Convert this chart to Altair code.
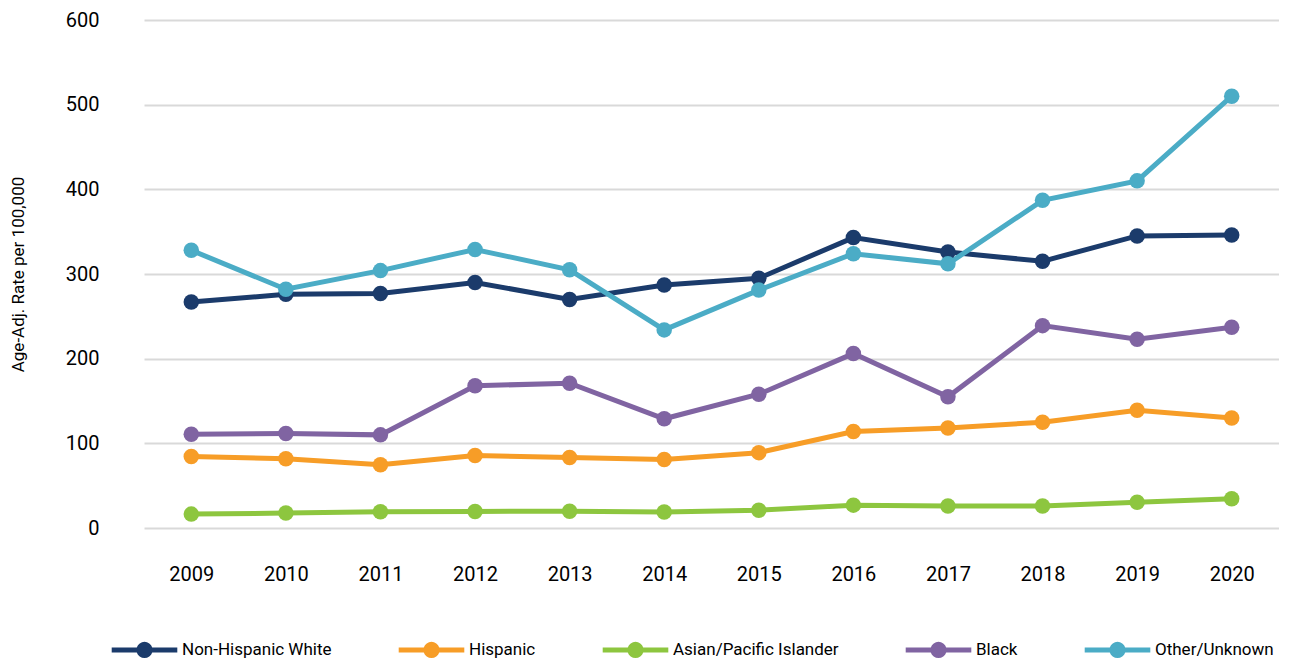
import math
import altair as alt
import pandas as pd

years = [2009, 2010, 2011, 2012, 2013, 2014, 2015, 2016, 2017, 2018, 2019, 2020]
series_names = ["Non-Hispanic White", "Hispanic", "Asian/Pacific Islander", "Black", "Other/Unknown"]
colors = ["#1B3B6B", "#F79D27", "#8DC63F", "#8064A2", "#4BACC6"]

nh_white = [267, 276, 277, 290, 270, 287, 295, 343, 326, 315, 345, 346]
hispanic = [84.5, 81.8, 74.8, 85.7, 83.3, 80.8, 89, 114, 118, 125, 139, 130]
asian_pi = [16.4, 17.6, 19.2, 19.6, 19.8, 18.8, 21, 27, 26, 26, 30.5, 34.5]
black = [110.7, 111.5, 110, 168, 171, 129, 158, 206, 155, 239, 223, 237]
other = [328, 282, 304, 329, 305, 234, 281, 324, 312, 387, 410, 510]

values = [nh_white, hispanic, asian_pi, black, other]
rows = []
for name, vals in zip(series_names, values):
    for y, v in zip(years, vals):
        rows.append({"Year": str(y), "Group": name, "Rate": v})
df = pd.DataFrame(rows)

FONT = "Roboto"

# legend glyph: a line with a dot on it (polygon circle)
n = 20
r = 0.7
poly = "".join(
    ("M" if i == 0 else "L") + f"{r*math.cos(2*math.pi*i/n):.3f},{r*math.sin(2*math.pi*i/n):.3f}"
    for i in range(n)
) + "Z"
glyph = "M-4.1,0L4.1,0" + poly

color = alt.Color(
    "Group:N",
    scale=alt.Scale(domain=series_names, range=colors),
    sort=series_names,
    legend=alt.Legend(
        title=None,
        orient="none",
        direction="horizontal",
        legendX=-10,
        legendY=619,
        padding=0,
        symbolType=glyph,
        symbolSize=256,
        symbolStrokeWidth=5,
        symbolOpacity=1,
        labelFont=FONT,
        labelFontSize=17,
        labelColor="#000000",
        labelOffset=27,
        columnPadding=56,
        labelLimit=400,
    ),
)

base = alt.Chart(df).encode(
    x=alt.X(
        "Year:O",
        scale=alt.Scale(paddingOuter=0.5, paddingInner=0),
        axis=alt.Axis(
            title=None,
            labelAngle=0,
            labelFont=FONT,
            labelFontSize=20,
            labelColor="#000000",
            domain=False,
            ticks=False,
            labelPadding=36,
            grid=False,
        ),
    ),
    y=alt.Y(
        "Rate:Q",
        scale=alt.Scale(domain=[0, 600], nice=False),
        axis=alt.Axis(
            title="Age-Adj. Rate per 100,000",
            titleFont=FONT,
            titleFontSize=17,
            titleFontWeight="normal",
            titleColor="#000000",
            titlePadding=38,
            values=[0, 100, 200, 300, 400, 500, 600],
            labelFont=FONT,
            labelFontSize=20,
            labelColor="#000000",
            labelPadding=45,
            domain=False,
            ticks=False,
            gridColor="#D9D9D9",
            gridWidth=2,
        ),
    ),
    color=color,
)

lines = base.mark_line(strokeWidth=5)
points = base.mark_circle(size=240, opacity=1)

chart = (
    alt.layer(lines, points)
    .properties(width=1135, height=508, background="white",
                padding={"left": 1, "top": 2, "right": 0, "bottom": 0})
    .configure_view(stroke=None)
)

chart.save("out.html", embed_options={"renderer": "svg", "actions": False})
